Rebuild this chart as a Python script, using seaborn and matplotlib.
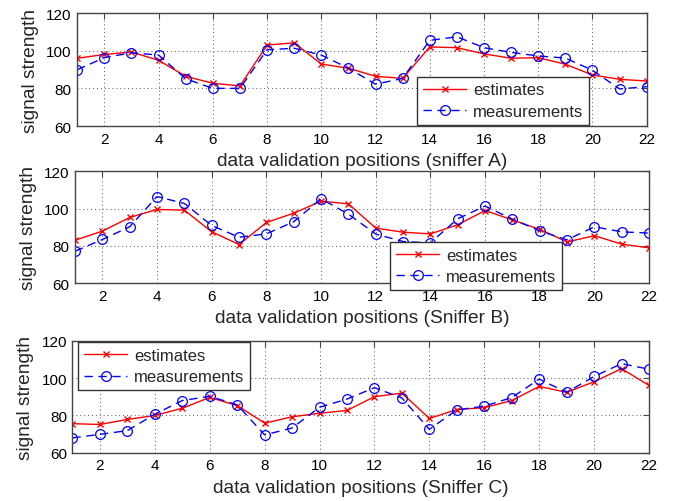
import numpy as np
import pandas as pd
import seaborn as sns
import matplotlib.pyplot as plt

positions = list(range(1, 23))

est_a = [96, 98, 99.3, 94.9, 86.4, 82.7, 81.3, 103, 104.2, 92.9, 90.7, 86.4,
         85.3, 102, 101.6, 98.3, 96, 96.3, 92.8, 87.1, 84.8, 83.9]
meas_a = [89.9, 96.3, 98.9, 97.7, 85.1, 80, 80, 100.5, 101.3, 97.7, 90.7, 82.2,
          85.3, 105.5, 107.4, 101.6, 99.1, 97.2, 96.1, 89.6, 79.7, 80.9]

est_b = [83, 87.9, 95.2, 99.5, 99.1, 87.5, 80.7, 92.5, 97.5, 103.9, 102.5, 89.5,
         87.3, 86.4, 91.3, 98.9, 93.9, 88.8, 82.1, 85.4, 80.9, 78.9]
meas_b = [77.1, 83.4, 90.2, 106.4, 102.7, 90.9, 84.6, 86.4, 92.9, 105.2, 97, 86.3,
          82.3, 81.6, 94.5, 101.3, 94.3, 88, 83.2, 90.2, 87.5, 86.8]

est_c = [75.6, 75.2, 77.9, 80, 83.9, 89.7, 85.3, 75.9, 79.3, 81.2, 82.7, 90.1,
         92, 78.4, 83.2, 84.2, 88, 95.6, 92.4, 98.1, 105.1, 96.1]
meas_c = [68, 69.9, 71.9, 80.7, 88, 90.3, 85.7, 69.6, 73.3, 84.4, 88.8, 94.9,
          89.4, 72.6, 83, 85, 89.6, 99.5, 92.4, 100.9, 107.8, 104.8]

xlabels = [
    "data validation positions (sniffer A)",
    "data validation positions (Sniffer B)",
    "data validation positions (Sniffer C)",
]

sns.set_style("white")
plt.rcParams["font.family"] = ["Liberation Sans", "DejaVu Sans"]

fig = plt.figure(figsize=(6.85, 5.02), dpi=100)

# axes rectangles and legend anchors for each panel
rects = [
    (0.1127, 0.747, 0.8314, 0.225),
    (0.1095, 0.434, 0.8380, 0.223),
    (0.1058, 0.096, 0.8416, 0.223),
]
legend_opts = [
    dict(loc="lower left", bbox_to_anchor=(0.597, 0.009)),
    dict(loc="lower left", bbox_to_anchor=(0.549, -0.0625)),
    dict(loc="upper left", bbox_to_anchor=(0.01, 0.991)),
]
panels = [(est_a, meas_a), (est_b, meas_b), (est_c, meas_c)]

for rect, (est, meas), xl, lo in zip(rects, panels, xlabels, legend_opts):
    ax = fig.add_axes(rect)
    df = pd.DataFrame({"pos": positions, "est": est, "meas": meas})
    sns.lineplot(data=df, x="pos", y="est", ax=ax, color="#ff0000",
                 marker="x", markersize=5, markeredgewidth=1.0,
                 markeredgecolor="#ff0000", linewidth=1.0,
                 label="estimates")
    sns.lineplot(data=df, x="pos", y="meas", ax=ax, color="#0000ff",
                 marker="o", markersize=7, markerfacecolor="none",
                 markeredgecolor="#0000ff", markeredgewidth=0.9,
                 linewidth=1.0, label="measurements")
    for ln in ax.lines:
        if ln.get_label() == "measurements":
            ln.set_dashes([6, 4])
    ax.set_xlim(1, 22)
    ax.set_ylim(60, 120)
    ax.set_xticks(np.arange(2, 23, 2))
    ax.set_yticks([60, 80, 100, 120])
    ax.grid(True, linestyle=(0, (1, 3)), color="#555555", linewidth=0.7)
    ax.tick_params(direction="in", length=4, labelsize=11, top=True,
                   right=True, colors="#444444", labelcolor="black", pad=4)
    for s in ax.spines.values():
        s.set_color("#444444")
        s.set_linewidth(1.0)
    ax.set_xlabel(xl, fontsize=13.8, labelpad=4.5)
    ax.set_ylabel("signal strength", fontsize=13.8, labelpad=5)
    leg = ax.legend(fontsize=12, frameon=True, fancybox=False,
                    edgecolor="#333333", framealpha=1, borderaxespad=0,
                    handlelength=2.6, handletextpad=0.4, borderpad=0.35,
                    labelspacing=0.4, **lo)
    leg.get_frame().set_linewidth(1.0)
    for h in leg.get_lines():
        if h.get_label() == "measurements":
            h.set_dashes([6, 4])

fig.savefig("out.png", dpi=100)
